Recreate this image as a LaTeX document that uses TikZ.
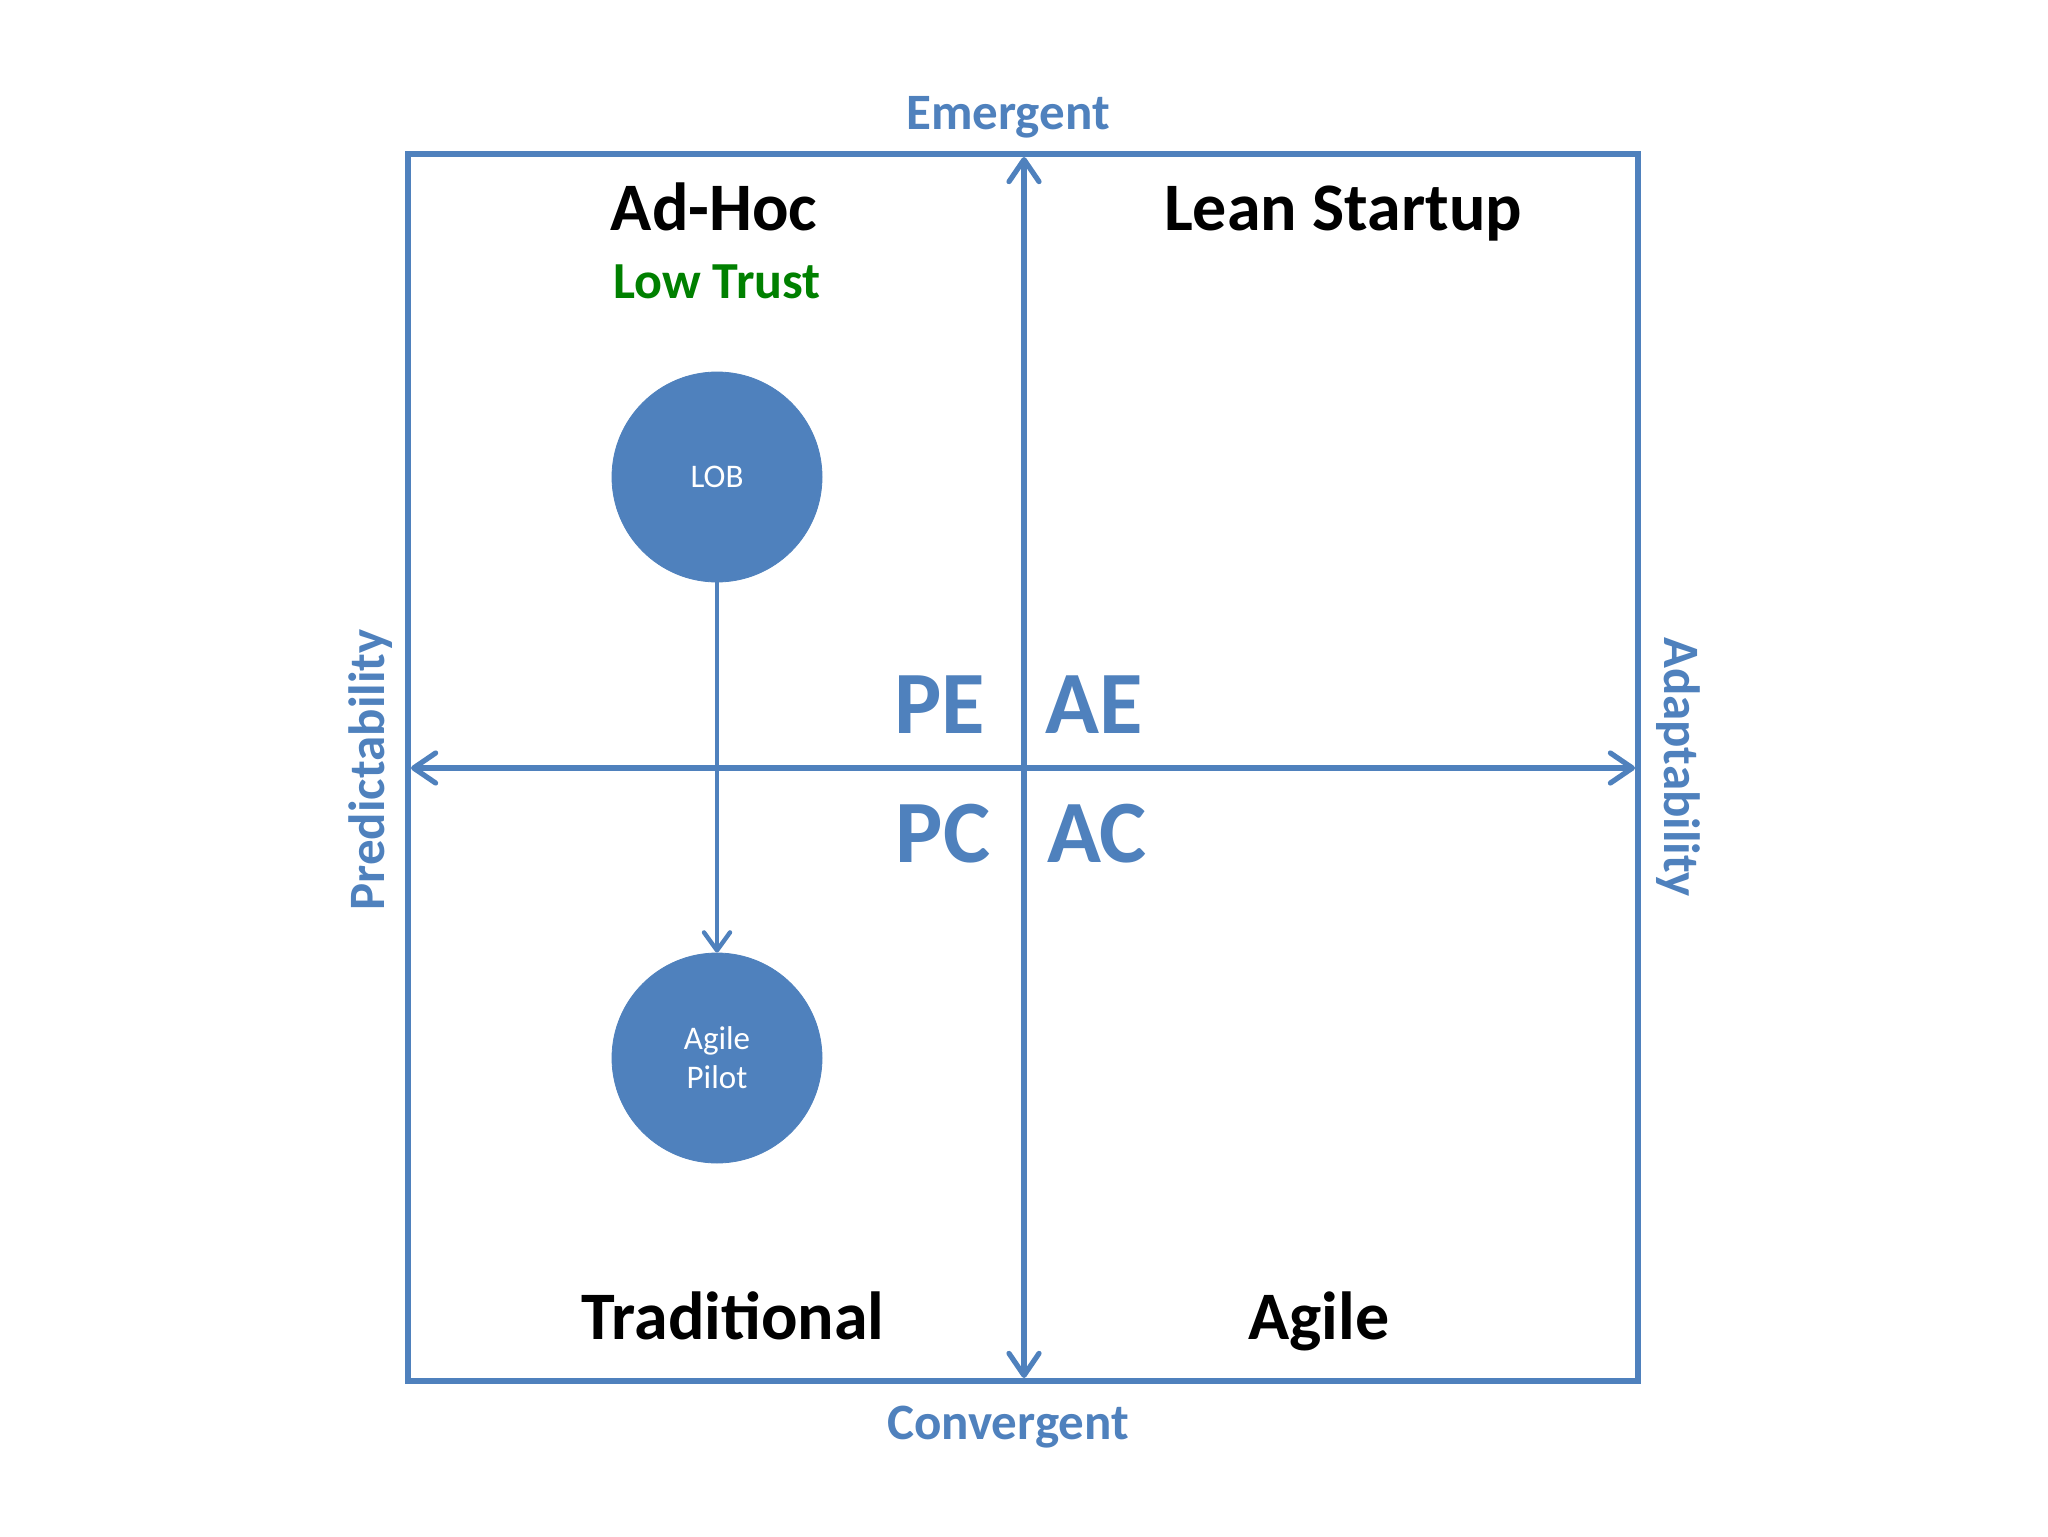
\documentclass[tikz,border=0pt]{standalone}
\usepackage{fontspec}
\setmainfont{Carlito}
\usetikzlibrary{arrows.meta}
\definecolor{axisblue}{HTML}{4F81BD}
\definecolor{trustgreen}{HTML}{008000}
\tikzset{
  axisline/.style={draw=axisblue, line width=2.6pt},
  axisarrow/.style={axisline, {Straight Barb[length=11pt,width=15pt,line width=2.6pt,round]}-{Straight Barb[length=11pt,width=15pt,line width=2.6pt,round]}},
  circ/.style={circle, fill=axisblue, draw=axisblue, minimum size=105pt, inner sep=0pt, text=white, font=\fontsize{16.5}{19.6}\selectfont, align=center},
  quad/.style={anchor=base, font=\bfseries\fontsize{34}{40}\selectfont, text=black},
  axlabel/.style={font=\bfseries\fontsize{25.5}{30}\selectfont, text=axisblue},
  code/.style={anchor=base, font=\bfseries\fontsize{44.5}{50}\selectfont, text=axisblue},
}
\begin{document}
\begin{tikzpicture}[x=0.5pt, y=-0.5pt]
\useasboundingbox (0,0) rectangle (2048,1536);
\fill[white] (0,0) rectangle (2048,1536);
% frame
\draw[axisline] (408,154) rectangle (1638,1381);
% axes
\coordinate (top) at (1024,157);
\coordinate (bot) at (1024,1378);
\coordinate (lft) at (411,768);
\coordinate (rgt) at (1635,768);
\draw[axisarrow] (bot) -- (top);
\draw[axisarrow] (lft) -- (rgt);
% axis labels
\node[axlabel, anchor=base] (emergent) at (1008,129) {Emergent};
\node[axlabel, anchor=base] (convergent) at (1008,1439) {Convergent};
\node[axlabel, rotate=90] (predict) at (371,770) {Predictability};
\node[axlabel, rotate=-90] (adapt) at (1678,767) {Adaptability};
% quadrant titles
\node[quad] (adhoc) at (714,230) {Ad-Hoc};
\node[anchor=base, font=\bfseries\fontsize{26}{30}\selectfont, text=trustgreen] (lowtrust) at (717,298) {Low Trust};
\node[quad] (lean) at (1343,230) {Lean Startup};
\node[quad] (trad) at (733,1339) {Traditional};
\node[quad] (agile) at (1319,1339) {Agile};
% codes
\node[code] (pe) at (940,733) {PE};
\node[code] (ae) at (1094,733) {AE};
\node[code] (pc) at (943,862) {PC};
\node[code] (ac) at (1097,862) {AC};
% circles
\node[circ] (lob) at (717,477) {LOB};
\node[circ] (pilot) at (717,1058) {Agile\\Pilot};
\draw[draw=axisblue, line width=2.2pt, -{Straight Barb[length=9pt,width=13pt,line width=2.2pt,round]}] (lob.south) -- (pilot.north);
\end{tikzpicture}
\end{document}
